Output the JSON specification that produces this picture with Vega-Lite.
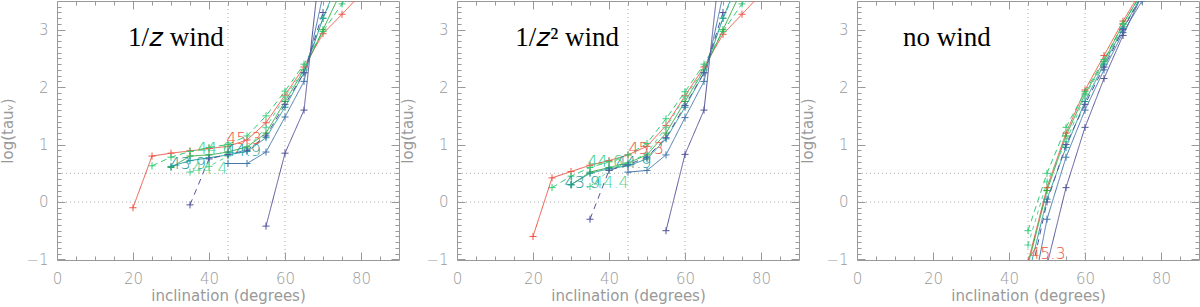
{
  "$schema": "https://vega.github.io/schema/vega-lite/v6.json",
  "padding": 0,
  "autosize": {"type": "pad"},
  "background": "white",
  "config": {
    "view": {"stroke": "#999999", "strokeWidth": 1},
    "axis": {"domain": false, "grid": false, "tickColor": "#999999", "tickWidth": 1, "labelColor": "#999999", "titleColor": "#999999", "labelFont": "DejaVu Sans", "titleFont": "DejaVu Sans", "labelFontSize": 15, "titleFontSize": 15, "titleFontWeight": "normal", "labelFontWeight": 200, "labelFlush": false, "labelOverlap": false}
  },
  "datasets": {
    "vref": [{"x": 45}, {"x": 60}],
    "href": [{"y": 0}, {"y": 0.5}],
    "titles": [
      {"p": "A", "x": 18.7, "y": 2.72, "t": "1/𝑧 wind"},
      {"p": "B", "x": 15.3, "y": 2.72, "t": "1/𝑧² wind"},
      {"p": "C", "x": 12.1, "y": 2.72, "t": "no wind"}
    ],
    "labels": [
      {"p": "A", "s": "r", "x": 49.2, "y": 1.1, "t": "45.3"},
      {"p": "A", "s": "g1", "x": 41.5, "y": 0.93, "t": "44.6"},
      {"p": "A", "s": "t", "x": 49, "y": 0.88, "t": "44.9"},
      {"p": "A", "s": "t", "x": 34.5, "y": 0.66, "t": "43.9"},
      {"p": "A", "s": "g3", "x": 40.2, "y": 0.57, "t": "44.4"},
      {"p": "B", "s": "r", "x": 49.8, "y": 0.93, "t": "45.3"},
      {"p": "B", "s": "g1", "x": 39, "y": 0.7, "t": "44.6"},
      {"p": "B", "s": "t", "x": 46.5, "y": 0.68, "t": "44.9"},
      {"p": "B", "s": "t", "x": 33, "y": 0.33, "t": "43.9"},
      {"p": "B", "s": "g3", "x": 40.5, "y": 0.33, "t": "44.4"},
      {"p": "C", "s": "r", "x": 50.2, "y": -0.9, "t": "45.3"}
    ],
    "lines": [
      {"p":"A","s":"r","x":20,"y":-0.1},{"p":"A","s":"r","x":25,"y":0.8},{"p":"A","s":"r","x":30,"y":0.85},{"p":"A","s":"r","x":35,"y":0.89},{"p":"A","s":"r","x":40,"y":0.93},{"p":"A","s":"r","x":45,"y":0.97},{"p":"A","s":"r","x":50,"y":1.08},{"p":"A","s":"r","x":55,"y":1.38},{"p":"A","s":"r","x":60,"y":1.86},{"p":"A","s":"r","x":65,"y":2.35},{"p":"A","s":"r","x":70,"y":2.93},{"p":"A","s":"r","x":75,"y":3.27},{"p":"A","s":"r","x":80,"y":3.62},
      {"p":"A","s":"g1","x":25,"y":0.63},{"p":"A","s":"g1","x":30,"y":0.78},{"p":"A","s":"g1","x":35,"y":0.88},{"p":"A","s":"g1","x":40,"y":0.95},{"p":"A","s":"g1","x":45,"y":1.0},{"p":"A","s":"g1","x":50,"y":1.15},{"p":"A","s":"g1","x":55,"y":1.5},{"p":"A","s":"g1","x":60,"y":1.93},{"p":"A","s":"g1","x":65,"y":2.4},{"p":"A","s":"g1","x":70,"y":2.97},{"p":"A","s":"g1","x":75,"y":3.45},{"p":"A","s":"g1","x":80,"y":3.9},
      {"p":"A","s":"g2","x":30,"y":0.6},{"p":"A","s":"g2","x":35,"y":0.8},{"p":"A","s":"g2","x":40,"y":0.82},{"p":"A","s":"g2","x":45,"y":0.87},{"p":"A","s":"g2","x":50,"y":0.96},{"p":"A","s":"g2","x":55,"y":1.2},{"p":"A","s":"g2","x":60,"y":1.75},{"p":"A","s":"g2","x":65,"y":2.3},{"p":"A","s":"g2","x":70,"y":3.0},{"p":"A","s":"g2","x":75,"y":3.7},
      {"p":"A","s":"g3","x":35,"y":0.52},{"p":"A","s":"g3","x":40,"y":0.62},{"p":"A","s":"g3","x":45,"y":0.8},{"p":"A","s":"g3","x":50,"y":0.93},{"p":"A","s":"g3","x":55,"y":1.3},{"p":"A","s":"g3","x":60,"y":1.83},{"p":"A","s":"g3","x":65,"y":2.3},{"p":"A","s":"g3","x":70,"y":3.2},{"p":"A","s":"g3","x":75,"y":3.9},
      {"p":"A","s":"t","x":30,"y":0.62},{"p":"A","s":"t","x":35,"y":0.72},{"p":"A","s":"t","x":40,"y":0.77},{"p":"A","s":"t","x":45,"y":0.82},{"p":"A","s":"t","x":50,"y":0.88},{"p":"A","s":"t","x":55,"y":1.12},{"p":"A","s":"t","x":60,"y":1.65},{"p":"A","s":"t","x":65,"y":2.25},{"p":"A","s":"t","x":70,"y":3.2},{"p":"A","s":"t","x":75,"y":4.0},
      {"p":"A","s":"b","x":45,"y":0.67},{"p":"A","s":"b","x":50,"y":0.67},{"p":"A","s":"b","x":55,"y":0.87},{"p":"A","s":"b","x":60,"y":1.48},{"p":"A","s":"b","x":65,"y":2.1},{"p":"A","s":"b","x":70,"y":3.6},
      {"p":"A","s":"nd","x":35,"y":-0.05},{"p":"A","s":"nd","x":40,"y":0.75},{"p":"A","s":"nd","x":45,"y":0.83},{"p":"A","s":"nd","x":50,"y":0.9},{"p":"A","s":"nd","x":55,"y":1.15},{"p":"A","s":"nd","x":60,"y":1.7},{"p":"A","s":"nd","x":65,"y":2.25},{"p":"A","s":"nd","x":70,"y":3.3},
      {"p":"A","s":"n","x":55,"y":-0.42},{"p":"A","s":"n","x":60,"y":0.85},{"p":"A","s":"n","x":65,"y":1.6},{"p":"A","s":"n","x":70,"y":4.6},

      {"p":"B","s":"r","x":20,"y":-0.6},{"p":"B","s":"r","x":25,"y":0.42},{"p":"B","s":"r","x":30,"y":0.53},{"p":"B","s":"r","x":35,"y":0.64},{"p":"B","s":"r","x":40,"y":0.72},{"p":"B","s":"r","x":45,"y":0.82},{"p":"B","s":"r","x":50,"y":0.97},{"p":"B","s":"r","x":55,"y":1.33},{"p":"B","s":"r","x":60,"y":1.85},{"p":"B","s":"r","x":65,"y":2.35},{"p":"B","s":"r","x":70,"y":2.92},{"p":"B","s":"r","x":75,"y":3.27},{"p":"B","s":"r","x":80,"y":3.62},
      {"p":"B","s":"g1","x":25,"y":0.25},{"p":"B","s":"g1","x":30,"y":0.45},{"p":"B","s":"g1","x":35,"y":0.6},{"p":"B","s":"g1","x":40,"y":0.7},{"p":"B","s":"g1","x":45,"y":0.82},{"p":"B","s":"g1","x":50,"y":1.02},{"p":"B","s":"g1","x":55,"y":1.45},{"p":"B","s":"g1","x":60,"y":1.92},{"p":"B","s":"g1","x":65,"y":2.4},{"p":"B","s":"g1","x":70,"y":2.97},{"p":"B","s":"g1","x":75,"y":3.45},{"p":"B","s":"g1","x":80,"y":3.9},
      {"p":"B","s":"g2","x":30,"y":0.3},{"p":"B","s":"g2","x":35,"y":0.52},{"p":"B","s":"g2","x":40,"y":0.6},{"p":"B","s":"g2","x":45,"y":0.68},{"p":"B","s":"g2","x":50,"y":0.82},{"p":"B","s":"g2","x":55,"y":1.2},{"p":"B","s":"g2","x":60,"y":1.75},{"p":"B","s":"g2","x":65,"y":2.3},{"p":"B","s":"g2","x":70,"y":3.0},{"p":"B","s":"g2","x":75,"y":3.7},
      {"p":"B","s":"g3","x":35,"y":0.27},{"p":"B","s":"g3","x":40,"y":0.55},{"p":"B","s":"g3","x":45,"y":0.68},{"p":"B","s":"g3","x":50,"y":0.85},{"p":"B","s":"g3","x":55,"y":1.3},{"p":"B","s":"g3","x":60,"y":1.83},{"p":"B","s":"g3","x":65,"y":2.3},{"p":"B","s":"g3","x":70,"y":3.2},{"p":"B","s":"g3","x":75,"y":3.9},
      {"p":"B","s":"t","x":30,"y":0.3},{"p":"B","s":"t","x":35,"y":0.5},{"p":"B","s":"t","x":40,"y":0.58},{"p":"B","s":"t","x":45,"y":0.63},{"p":"B","s":"t","x":50,"y":0.75},{"p":"B","s":"t","x":55,"y":1.1},{"p":"B","s":"t","x":60,"y":1.65},{"p":"B","s":"t","x":65,"y":2.25},{"p":"B","s":"t","x":70,"y":3.2},{"p":"B","s":"t","x":75,"y":4.0},
      {"p":"B","s":"b","x":45,"y":0.52},{"p":"B","s":"b","x":50,"y":0.55},{"p":"B","s":"b","x":55,"y":0.82},{"p":"B","s":"b","x":60,"y":1.47},{"p":"B","s":"b","x":65,"y":2.1},{"p":"B","s":"b","x":70,"y":3.6},
      {"p":"B","s":"nd","x":35,"y":-0.3},{"p":"B","s":"nd","x":40,"y":0.55},{"p":"B","s":"nd","x":45,"y":0.65},{"p":"B","s":"nd","x":50,"y":0.78},{"p":"B","s":"nd","x":55,"y":1.12},{"p":"B","s":"nd","x":60,"y":1.68},{"p":"B","s":"nd","x":65,"y":2.25},{"p":"B","s":"nd","x":70,"y":3.3},
      {"p":"B","s":"n","x":55,"y":-0.5},{"p":"B","s":"n","x":60,"y":0.83},{"p":"B","s":"n","x":65,"y":1.6},{"p":"B","s":"n","x":70,"y":4.6},

      {"p":"C","s":"r","x":45,"y":-1.05},{"p":"C","s":"r","x":50,"y":0.25},{"p":"C","s":"r","x":55,"y":1.2},{"p":"C","s":"r","x":60,"y":1.95},{"p":"C","s":"r","x":65,"y":2.55},{"p":"C","s":"r","x":70,"y":3.15},{"p":"C","s":"r","x":75,"y":3.7},
      {"p":"C","s":"g1","x":45,"y":-0.5},{"p":"C","s":"g1","x":50,"y":0.5},{"p":"C","s":"g1","x":55,"y":1.3},{"p":"C","s":"g1","x":60,"y":1.92},{"p":"C","s":"g1","x":65,"y":2.48},{"p":"C","s":"g1","x":70,"y":3.1},{"p":"C","s":"g1","x":75,"y":3.65},
      {"p":"C","s":"g2","x":45,"y":-1.1},{"p":"C","s":"g2","x":50,"y":0.2},{"p":"C","s":"g2","x":55,"y":1.15},{"p":"C","s":"g2","x":60,"y":1.88},{"p":"C","s":"g2","x":65,"y":2.45},{"p":"C","s":"g2","x":70,"y":3.1},{"p":"C","s":"g2","x":75,"y":3.65},
      {"p":"C","s":"g3","x":45,"y":-0.75},{"p":"C","s":"g3","x":50,"y":0.35},{"p":"C","s":"g3","x":55,"y":1.05},{"p":"C","s":"g3","x":60,"y":1.85},{"p":"C","s":"g3","x":65,"y":2.42},{"p":"C","s":"g3","x":70,"y":3.05},{"p":"C","s":"g3","x":75,"y":3.6},
      {"p":"C","s":"t","x":45,"y":-1.3},{"p":"C","s":"t","x":50,"y":0.05},{"p":"C","s":"t","x":55,"y":0.95},{"p":"C","s":"t","x":60,"y":1.75},{"p":"C","s":"t","x":65,"y":2.4},{"p":"C","s":"t","x":70,"y":3.02},{"p":"C","s":"t","x":75,"y":3.6},
      {"p":"C","s":"b","x":45,"y":-2.0},{"p":"C","s":"b","x":50,"y":-0.3},{"p":"C","s":"b","x":55,"y":0.78},{"p":"C","s":"b","x":60,"y":1.6},{"p":"C","s":"b","x":65,"y":2.3},{"p":"C","s":"b","x":70,"y":2.95},{"p":"C","s":"b","x":75,"y":3.5},
      {"p":"C","s":"nd","x":45,"y":-1.5},{"p":"C","s":"nd","x":50,"y":0.0},{"p":"C","s":"nd","x":55,"y":1.0},{"p":"C","s":"nd","x":60,"y":1.7},{"p":"C","s":"nd","x":65,"y":2.35},{"p":"C","s":"nd","x":70,"y":3.0},{"p":"C","s":"nd","x":75,"y":3.6},
      {"p":"C","s":"n","x":50,"y":-1.1},{"p":"C","s":"n","x":55,"y":0.25},{"p":"C","s":"n","x":60,"y":1.3},{"p":"C","s":"n","x":65,"y":2.15},{"p":"C","s":"n","x":70,"y":2.9},{"p":"C","s":"n","x":75,"y":3.6}
    ]
  },
  "hconcat": [
    {
      "width": 342, "height": 259,
      "resolve": {"axis": {"x": "independent", "y": "independent"}},
      "layer": [
        {"data": {"name": "vref"}, "mark": {"type": "rule", "stroke": "#aaaaaa", "strokeDash": [1, 3], "strokeWidth": 1},
         "encoding": {"x": {"field": "x", "type": "quantitative", "scale": {"domain": [0, 90], "nice": false, "zero": false},
           "axis": {"orient": "bottom", "values": [0, 20, 40, 60, 80], "tickSize": -8, "labelPadding": 19, "title": "inclination (degrees)", "titlePadding": 2}}}},
        {"data": {"name": "href"}, "mark": {"type": "rule", "stroke": "#aaaaaa", "strokeDash": [1, 3], "strokeWidth": 1},
         "encoding": {"y": {"field": "y", "type": "quantitative", "scale": {"domain": [-1.01, 3.5], "nice": false, "zero": false},
           "axis": {"orient": "left", "values": [-1, 0, 1, 2, 3], "tickSize": -8, "labelPadding": 17, "title": "log(tauᵥ)", "titlePadding": 10}}}},
        {"data": {"name": "lines"}, "transform": [{"filter": "datum.p === 'A'"}], "mark": {"type": "line", "clip": true, "strokeWidth": 1},
         "encoding": {
           "x": {"field": "x", "type": "quantitative", "scale": {"domain": [0, 90], "nice": false, "zero": false}, "axis": {"orient": "bottom", "values": [5,10,15,25,30,35,45,50,55,65,70,75,85], "tickSize": -4, "labels": false, "title": null}},
           "y": {"field": "y", "type": "quantitative", "scale": {"domain": [-1.01, 3.5], "nice": false, "zero": false}, "axis": {"orient": "left", "values": [-0.9,-0.8,-0.7,-0.6,-0.5,-0.4,-0.3,-0.2,-0.1,0.1,0.2,0.3,0.4,0.5,0.6,0.7,0.8,0.9,1.1,1.2,1.3,1.4,1.5,1.6,1.7,1.8,1.9,2.1,2.2,2.3,2.4,2.5,2.6,2.7,2.8,2.9,3.1,3.2,3.3,3.4], "tickSize": -4, "labels": false, "title": null}},
           "color": {"field": "s", "type": "nominal", "legend": null, "scale": {"domain": ["r","g1","g2","g3","t","b","nd","n"], "range": ["#ee5544","#33cc77","#33aa44","#55d499","#229999","#4477aa","#5555a0","#55559a"]}},
           "strokeDash": {"field": "s", "type": "nominal", "legend": null, "scale": {"domain": ["r","g1","g2","g3","t","b","nd","n"], "range": [[1,0],[6,4],[1,0],[4,4],[1,0],[1,0],[6,5],[1,0]]}}
         }},
        {"data": {"name": "lines"}, "transform": [{"filter": "datum.p === 'A'"}], "mark": {"type": "point", "clip": true, "shape": "M-1,0L1,0M0,-1L0,1", "filled": false, "size": 50, "strokeWidth": 1, "opacity": 1},
         "encoding": {
           "x": {"field": "x", "type": "quantitative", "scale": {"domain": [0, 90], "nice": false, "zero": false}, "axis": {"orient": "top", "values": [0,20,40,60,80], "tickSize": -8, "labels": false, "title": null}},
           "y": {"field": "y", "type": "quantitative", "scale": {"domain": [-1.01, 3.5], "nice": false, "zero": false}, "axis": {"orient": "right", "values": [-1,0,1,2,3], "tickSize": -8, "labels": false, "title": null}},
           "color": {"field": "s", "type": "nominal", "legend": null, "scale": {"domain": ["r","g1","g2","g3","t","b","nd","n"], "range": ["#ee5544","#33cc77","#33aa44","#55d499","#229999","#4477aa","#5555a0","#55559a"]}}
         }},
        {"data": {"name": "labels"}, "transform": [{"filter": "datum.p === 'A'"}], "mark": {"type": "text", "clip": true, "font": "DejaVu Sans", "fontSize": 16, "fontWeight": 200, "align": "center", "baseline": "middle"},
         "encoding": {
           "x": {"field": "x", "type": "quantitative", "scale": {"domain": [0, 90], "nice": false, "zero": false}, "axis": {"orient": "top", "values": [5,10,15,25,30,35,45,50,55,65,70,75,85], "tickSize": -4, "labels": false, "title": null}},
           "y": {"field": "y", "type": "quantitative", "scale": {"domain": [-1.01, 3.5], "nice": false, "zero": false}, "axis": {"orient": "right", "values": [-0.9,-0.8,-0.7,-0.6,-0.5,-0.4,-0.3,-0.2,-0.1,0.1,0.2,0.3,0.4,0.5,0.6,0.7,0.8,0.9,1.1,1.2,1.3,1.4,1.5,1.6,1.7,1.8,1.9,2.1,2.2,2.3,2.4,2.5,2.6,2.7,2.8,2.9,3.1,3.2,3.3,3.4], "tickSize": -4, "labels": false, "title": null}},
           "text": {"field": "t"},
           "color": {"field": "s", "type": "nominal", "legend": null, "scale": {"domain": ["r","g1","g2","g3","t","b","nd","n"], "range": ["#ee5544","#33cc77","#33aa44","#55d499","#229999","#4477aa","#5555a0","#55559a"]}}
         }},
        {"data": {"name": "titles"}, "transform": [{"filter": "datum.p === 'A'"}], "mark": {"type": "text", "font": "Liberation Serif", "fontSize": 27, "align": "left", "baseline": "alphabetic", "color": "black"},
         "encoding": {
           "x": {"field": "x", "type": "quantitative", "scale": {"domain": [0, 90], "nice": false, "zero": false}, "axis": null},
           "y": {"field": "y", "type": "quantitative", "scale": {"domain": [-1.01, 3.5], "nice": false, "zero": false}, "axis": null},
           "text": {"field": "t"}
         }}
      ]
    },
    {
      "width": 342, "height": 259,
      "resolve": {"axis": {"x": "independent", "y": "independent"}},
      "layer": [
        {"data": {"name": "vref"}, "mark": {"type": "rule", "stroke": "#aaaaaa", "strokeDash": [1, 3], "strokeWidth": 1},
         "encoding": {"x": {"field": "x", "type": "quantitative", "scale": {"domain": [0, 90], "nice": false, "zero": false},
           "axis": {"orient": "bottom", "values": [0, 20, 40, 60, 80], "tickSize": -8, "labelPadding": 19, "title": "inclination (degrees)", "titlePadding": 2}}}},
        {"data": {"name": "href"}, "mark": {"type": "rule", "stroke": "#aaaaaa", "strokeDash": [1, 3], "strokeWidth": 1},
         "encoding": {"y": {"field": "y", "type": "quantitative", "scale": {"domain": [-1.01, 3.5], "nice": false, "zero": false},
           "axis": {"orient": "left", "values": [-1, 0, 1, 2, 3], "tickSize": -8, "labelPadding": 17, "title": "log(tauᵥ)", "titlePadding": 10}}}},
        {"data": {"name": "lines"}, "transform": [{"filter": "datum.p === 'B'"}], "mark": {"type": "line", "clip": true, "strokeWidth": 1},
         "encoding": {
           "x": {"field": "x", "type": "quantitative", "scale": {"domain": [0, 90], "nice": false, "zero": false}, "axis": {"orient": "bottom", "values": [5,10,15,25,30,35,45,50,55,65,70,75,85], "tickSize": -4, "labels": false, "title": null}},
           "y": {"field": "y", "type": "quantitative", "scale": {"domain": [-1.01, 3.5], "nice": false, "zero": false}, "axis": {"orient": "left", "values": [-0.9,-0.8,-0.7,-0.6,-0.5,-0.4,-0.3,-0.2,-0.1,0.1,0.2,0.3,0.4,0.5,0.6,0.7,0.8,0.9,1.1,1.2,1.3,1.4,1.5,1.6,1.7,1.8,1.9,2.1,2.2,2.3,2.4,2.5,2.6,2.7,2.8,2.9,3.1,3.2,3.3,3.4], "tickSize": -4, "labels": false, "title": null}},
           "color": {"field": "s", "type": "nominal", "legend": null, "scale": {"domain": ["r","g1","g2","g3","t","b","nd","n"], "range": ["#ee5544","#33cc77","#33aa44","#55d499","#229999","#4477aa","#5555a0","#55559a"]}},
           "strokeDash": {"field": "s", "type": "nominal", "legend": null, "scale": {"domain": ["r","g1","g2","g3","t","b","nd","n"], "range": [[1,0],[6,4],[1,0],[4,4],[1,0],[1,0],[6,5],[1,0]]}}
         }},
        {"data": {"name": "lines"}, "transform": [{"filter": "datum.p === 'B'"}], "mark": {"type": "point", "clip": true, "shape": "M-1,0L1,0M0,-1L0,1", "filled": false, "size": 50, "strokeWidth": 1, "opacity": 1},
         "encoding": {
           "x": {"field": "x", "type": "quantitative", "scale": {"domain": [0, 90], "nice": false, "zero": false}, "axis": {"orient": "top", "values": [0,20,40,60,80], "tickSize": -8, "labels": false, "title": null}},
           "y": {"field": "y", "type": "quantitative", "scale": {"domain": [-1.01, 3.5], "nice": false, "zero": false}, "axis": {"orient": "right", "values": [-1,0,1,2,3], "tickSize": -8, "labels": false, "title": null}},
           "color": {"field": "s", "type": "nominal", "legend": null, "scale": {"domain": ["r","g1","g2","g3","t","b","nd","n"], "range": ["#ee5544","#33cc77","#33aa44","#55d499","#229999","#4477aa","#5555a0","#55559a"]}}
         }},
        {"data": {"name": "labels"}, "transform": [{"filter": "datum.p === 'B'"}], "mark": {"type": "text", "clip": true, "font": "DejaVu Sans", "fontSize": 16, "fontWeight": 200, "align": "center", "baseline": "middle"},
         "encoding": {
           "x": {"field": "x", "type": "quantitative", "scale": {"domain": [0, 90], "nice": false, "zero": false}, "axis": {"orient": "top", "values": [5,10,15,25,30,35,45,50,55,65,70,75,85], "tickSize": -4, "labels": false, "title": null}},
           "y": {"field": "y", "type": "quantitative", "scale": {"domain": [-1.01, 3.5], "nice": false, "zero": false}, "axis": {"orient": "right", "values": [-0.9,-0.8,-0.7,-0.6,-0.5,-0.4,-0.3,-0.2,-0.1,0.1,0.2,0.3,0.4,0.5,0.6,0.7,0.8,0.9,1.1,1.2,1.3,1.4,1.5,1.6,1.7,1.8,1.9,2.1,2.2,2.3,2.4,2.5,2.6,2.7,2.8,2.9,3.1,3.2,3.3,3.4], "tickSize": -4, "labels": false, "title": null}},
           "text": {"field": "t"},
           "color": {"field": "s", "type": "nominal", "legend": null, "scale": {"domain": ["r","g1","g2","g3","t","b","nd","n"], "range": ["#ee5544","#33cc77","#33aa44","#55d499","#229999","#4477aa","#5555a0","#55559a"]}}
         }},
        {"data": {"name": "titles"}, "transform": [{"filter": "datum.p === 'B'"}], "mark": {"type": "text", "font": "Liberation Serif", "fontSize": 27, "align": "left", "baseline": "alphabetic", "color": "black"},
         "encoding": {
           "x": {"field": "x", "type": "quantitative", "scale": {"domain": [0, 90], "nice": false, "zero": false}, "axis": null},
           "y": {"field": "y", "type": "quantitative", "scale": {"domain": [-1.01, 3.5], "nice": false, "zero": false}, "axis": null},
           "text": {"field": "t"}
         }}
      ]
    },
    {
      "width": 342, "height": 259,
      "resolve": {"axis": {"x": "independent", "y": "independent"}},
      "layer": [
        {"data": {"name": "vref"}, "mark": {"type": "rule", "stroke": "#aaaaaa", "strokeDash": [1, 3], "strokeWidth": 1},
         "encoding": {"x": {"field": "x", "type": "quantitative", "scale": {"domain": [0, 90], "nice": false, "zero": false},
           "axis": {"orient": "bottom", "values": [0, 20, 40, 60, 80], "tickSize": -8, "labelPadding": 19, "title": "inclination (degrees)", "titlePadding": 2}}}},
        {"data": {"name": "href"}, "mark": {"type": "rule", "stroke": "#aaaaaa", "strokeDash": [1, 3], "strokeWidth": 1},
         "encoding": {"y": {"field": "y", "type": "quantitative", "scale": {"domain": [-1.01, 3.5], "nice": false, "zero": false},
           "axis": {"orient": "left", "values": [-1, 0, 1, 2, 3], "tickSize": -8, "labelPadding": 17, "title": "log(tauᵥ)", "titlePadding": 10}}}},
        {"data": {"name": "lines"}, "transform": [{"filter": "datum.p === 'C'"}], "mark": {"type": "line", "clip": true, "strokeWidth": 1},
         "encoding": {
           "x": {"field": "x", "type": "quantitative", "scale": {"domain": [0, 90], "nice": false, "zero": false}, "axis": {"orient": "bottom", "values": [5,10,15,25,30,35,45,50,55,65,70,75,85], "tickSize": -4, "labels": false, "title": null}},
           "y": {"field": "y", "type": "quantitative", "scale": {"domain": [-1.01, 3.5], "nice": false, "zero": false}, "axis": {"orient": "left", "values": [-0.9,-0.8,-0.7,-0.6,-0.5,-0.4,-0.3,-0.2,-0.1,0.1,0.2,0.3,0.4,0.5,0.6,0.7,0.8,0.9,1.1,1.2,1.3,1.4,1.5,1.6,1.7,1.8,1.9,2.1,2.2,2.3,2.4,2.5,2.6,2.7,2.8,2.9,3.1,3.2,3.3,3.4], "tickSize": -4, "labels": false, "title": null}},
           "color": {"field": "s", "type": "nominal", "legend": null, "scale": {"domain": ["r","g1","g2","g3","t","b","nd","n"], "range": ["#ee5544","#33cc77","#33aa44","#55d499","#229999","#4477aa","#5555a0","#55559a"]}},
           "strokeDash": {"field": "s", "type": "nominal", "legend": null, "scale": {"domain": ["r","g1","g2","g3","t","b","nd","n"], "range": [[1,0],[6,4],[1,0],[4,4],[1,0],[1,0],[6,5],[1,0]]}}
         }},
        {"data": {"name": "lines"}, "transform": [{"filter": "datum.p === 'C'"}], "mark": {"type": "point", "clip": true, "shape": "M-1,0L1,0M0,-1L0,1", "filled": false, "size": 50, "strokeWidth": 1, "opacity": 1},
         "encoding": {
           "x": {"field": "x", "type": "quantitative", "scale": {"domain": [0, 90], "nice": false, "zero": false}, "axis": {"orient": "top", "values": [0,20,40,60,80], "tickSize": -8, "labels": false, "title": null}},
           "y": {"field": "y", "type": "quantitative", "scale": {"domain": [-1.01, 3.5], "nice": false, "zero": false}, "axis": {"orient": "right", "values": [-1,0,1,2,3], "tickSize": -8, "labels": false, "title": null}},
           "color": {"field": "s", "type": "nominal", "legend": null, "scale": {"domain": ["r","g1","g2","g3","t","b","nd","n"], "range": ["#ee5544","#33cc77","#33aa44","#55d499","#229999","#4477aa","#5555a0","#55559a"]}}
         }},
        {"data": {"name": "labels"}, "transform": [{"filter": "datum.p === 'C'"}], "mark": {"type": "text", "clip": true, "font": "DejaVu Sans", "fontSize": 16, "fontWeight": 200, "align": "center", "baseline": "middle"},
         "encoding": {
           "x": {"field": "x", "type": "quantitative", "scale": {"domain": [0, 90], "nice": false, "zero": false}, "axis": {"orient": "top", "values": [5,10,15,25,30,35,45,50,55,65,70,75,85], "tickSize": -4, "labels": false, "title": null}},
           "y": {"field": "y", "type": "quantitative", "scale": {"domain": [-1.01, 3.5], "nice": false, "zero": false}, "axis": {"orient": "right", "values": [-0.9,-0.8,-0.7,-0.6,-0.5,-0.4,-0.3,-0.2,-0.1,0.1,0.2,0.3,0.4,0.5,0.6,0.7,0.8,0.9,1.1,1.2,1.3,1.4,1.5,1.6,1.7,1.8,1.9,2.1,2.2,2.3,2.4,2.5,2.6,2.7,2.8,2.9,3.1,3.2,3.3,3.4], "tickSize": -4, "labels": false, "title": null}},
           "text": {"field": "t"},
           "color": {"field": "s", "type": "nominal", "legend": null, "scale": {"domain": ["r","g1","g2","g3","t","b","nd","n"], "range": ["#ee5544","#33cc77","#33aa44","#55d499","#229999","#4477aa","#5555a0","#55559a"]}}
         }},
        {"data": {"name": "titles"}, "transform": [{"filter": "datum.p === 'C'"}], "mark": {"type": "text", "font": "Liberation Serif", "fontSize": 27, "align": "left", "baseline": "alphabetic", "color": "black"},
         "encoding": {
           "x": {"field": "x", "type": "quantitative", "scale": {"domain": [0, 90], "nice": false, "zero": false}, "axis": null},
           "y": {"field": "y", "type": "quantitative", "scale": {"domain": [-1.01, 3.5], "nice": false, "zero": false}, "axis": null},
           "text": {"field": "t"}
         }}
      ]
    }
  ],
  "spacing": 58,
  "bounds": "flush"
}
